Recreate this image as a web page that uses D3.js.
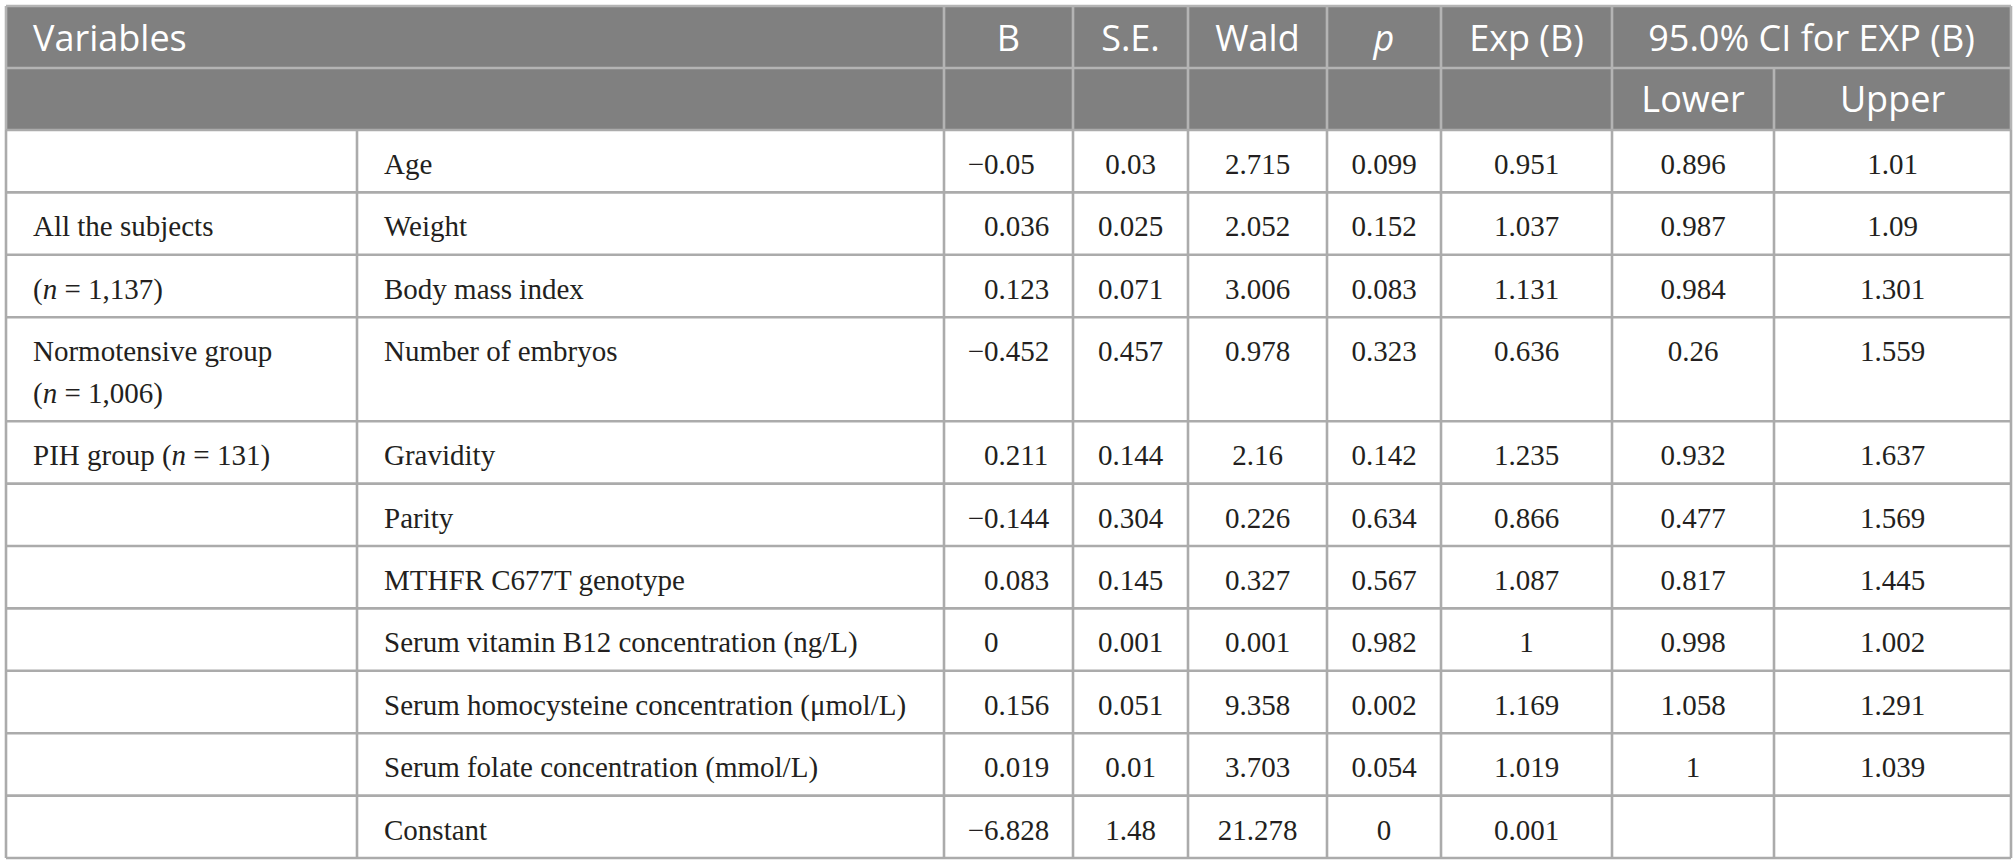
<!DOCTYPE html>
<html>
<head>
<meta charset="utf-8">
<script src="https://cdn.jsdelivr.net/npm/d3@7"></script>
<style>
  body { margin: 0; background: #fff; }
  .hdr { font-family: "Open Sans", sans-serif; font-size: 36px; fill: #fff; }
  .cell { font-family: "Liberation Serif", "Times New Roman", serif; font-size: 29px; fill: #231f20; }
</style>
</head>
<body>
<div class="chart"></div>
<script>
var svgWidth = 2016;
var svgHeight = 864;

// Table data
var groupLabels = ["", "All the subjects", "(n = 1,137)", "Normotensive group|(n = 1,006)", "PIH group (n = 131)", "", "", "", "", "", ""];
var variables = ["Age", "Weight", "Body mass index", "Number of embryos", "Gravidity", "Parity",
  "MTHFR C677T genotype", "Serum vitamin B12 concentration (ng/L)",
  "Serum homocysteine concentration (\u03bcmol/L)", "Serum folate concentration (mmol/L)", "Constant"];
var bValues = ["\u22120.05", "0.036", "0.123", "\u22120.452", "0.211", "\u22120.144", "0.083", "0", "0.156", "0.019", "\u22126.828"];
var seValues = ["0.03", "0.025", "0.071", "0.457", "0.144", "0.304", "0.145", "0.001", "0.051", "0.01", "1.48"];
var waldValues = ["2.715", "2.052", "3.006", "0.978", "2.16", "0.226", "0.327", "0.001", "9.358", "3.703", "21.278"];
var pValues = ["0.099", "0.152", "0.083", "0.323", "0.142", "0.634", "0.567", "0.982", "0.002", "0.054", "0"];
var expValues = ["0.951", "1.037", "1.131", "0.636", "1.235", "0.866", "1.087", "1", "1.169", "1.019", "0.001"];
var lowerValues = ["0.896", "0.987", "0.984", "0.26", "0.932", "0.477", "0.817", "0.998", "1.058", "1", ""];
var upperValues = ["1.01", "1.09", "1.301", "1.559", "1.637", "1.569", "1.445", "1.002", "1.291", "1.039", ""];

var columns = ["group", "variable", "B", "SE", "Wald", "p", "Exp", "Lower", "Upper"];
var headerTop = ["Variables", "", "B", "S.E.", "Wald", "p", "Exp (B)", "95.0% CI for EXP (B)", ""];
var headerSub = ["", "", "", "", "", "", "", "Lower", "Upper"];

// Layout
var tableLeft = 6, tableTop = 6;
var colWidths = [351, 587, 129, 115, 139, 114, 171, 162, 237];
var headRowH = 62;
var rowH = 62.4, lineH = 41.6;
var padX = 27, baseOff = 44;

var edges = [tableLeft].concat(Array.from(d3.cumsum(colWidths), d => d + tableLeft));
var x0 = d3.scaleOrdinal().domain(columns).range(edges.slice(0, -1));
var x1 = d3.scaleOrdinal().domain(columns).range(edges.slice(1));
var xMid = c => (x0(c) + x1(c)) / 2;

var rows = variables.map(function(v, i) {
  return {
    group: groupLabels[i].split("|"),
    variable: v,
    B: bValues[i], SE: seValues[i], Wald: waldValues[i], p: pValues[i],
    Exp: expValues[i], Lower: lowerValues[i], Upper: upperValues[i]
  };
});
rows.forEach(function(r) { r.h = rowH + (r.group.length - 1) * lineH; });
var bodyTop = tableTop + 2 * headRowH;
var rowTops = [bodyTop].concat(Array.from(d3.cumsum(rows, r => r.h), d => d + bodyTop));
var tableBottom = rowTops[rowTops.length - 1];
var tableRight = edges[edges.length - 1];

var svg = d3.select(".chart")
  .append("svg")
  .attr("width", svgWidth)
  .attr("height", svgHeight);

// write text with italic "n" and "p"
function richText(sel, str) {
  str.split(/(\bn\b|^p$)/).forEach(function(part) {
    if (part === "") return;
    var t = sel.append("tspan").text(part);
    if (part === "n" || part === "p") t.attr("font-style", "italic");
  });
}

// Header background
svg.append("rect")
  .attr("x", tableLeft).attr("y", tableTop)
  .attr("width", tableRight - tableLeft).attr("height", 2 * headRowH)
  .attr("fill", "#808080");

var lineColor = "#ababab";
var headLine = "#b4b4b4";
var sw = 2.6;

var grid = svg.append("g").attr("stroke-width", sw);

// header horizontal lines
[tableTop, tableTop + headRowH].forEach(function(y) {
  grid.append("line").attr("x1", tableLeft).attr("x2", tableRight).attr("y1", y).attr("y2", y).attr("stroke", headLine);
});

// header verticals (no split between group/variable, CI spans two columns in first row)
columns.slice(2).forEach(function(c) {
  grid.append("line")
    .attr("x1", x0(c)).attr("x2", x0(c))
    .attr("y1", c === "Upper" ? tableTop + headRowH : tableTop).attr("y2", bodyTop)
    .attr("stroke", headLine);
});
[tableLeft, tableRight].forEach(function(x) {
  grid.append("line").attr("x1", x).attr("x2", x).attr("y1", tableTop).attr("y2", bodyTop).attr("stroke", headLine);
});

// body horizontal lines
rowTops.forEach(function(y) {
  grid.append("line").attr("x1", tableLeft).attr("x2", tableRight).attr("y1", y).attr("y2", y).attr("stroke", lineColor);
});
// body verticals
edges.forEach(function(x) {
  grid.append("line").attr("x1", x).attr("x2", x).attr("y1", bodyTop).attr("y2", tableBottom).attr("stroke", lineColor);
});

// Header text
var hdr = svg.append("g").attr("class", "hdr");
headerTop.forEach(function(h, i) {
  if (!h) return;
  var c = columns[i];
  var t = hdr.append("text").attr("y", tableTop + 45);
  if (c === "group") {
    t.attr("x", x0(c) + padX);
  } else if (c === "Lower") {
    t.attr("x", (x0("Lower") + x1("Upper")) / 2).attr("text-anchor", "middle");
  } else {
    t.attr("x", xMid(c)).attr("text-anchor", "middle");
  }
  richText(t, h);
});
headerSub.forEach(function(h, i) {
  if (!h) return;
  var c = columns[i];
  hdr.append("text").attr("y", tableTop + headRowH + 44)
    .attr("x", xMid(c)).attr("text-anchor", "middle").text(h);
});

// Body text
var body = svg.append("g").attr("class", "cell");
rows.forEach(function(r, i) {
  var y = rowTops[i] + baseOff;
  r.group.forEach(function(line, k) {
    if (!line) return;
    var t = body.append("text").attr("x", x0("group") + padX).attr("y", y + k * lineH);
    richText(t, line);
  });
  body.append("text").attr("x", x0("variable") + padX).attr("y", y).text(r.variable);

  // B column: digits left-aligned, minus sign hangs outside
  var bx = x0("B") + 40;
  var neg = r.B.charAt(0) === "\u2212";
  if (neg) body.append("text").attr("x", bx).attr("y", y).attr("text-anchor", "end").text("\u2212");
  body.append("text").attr("x", bx).attr("y", y).text(neg ? r.B.slice(1) : r.B);

  ["SE", "Wald", "p", "Exp", "Lower", "Upper"].forEach(function(c) {
    if (!r[c]) return;
    body.append("text").attr("x", xMid(c)).attr("y", y).attr("text-anchor", "middle").text(r[c]);
  });
});
</script>
</body>
</html>
